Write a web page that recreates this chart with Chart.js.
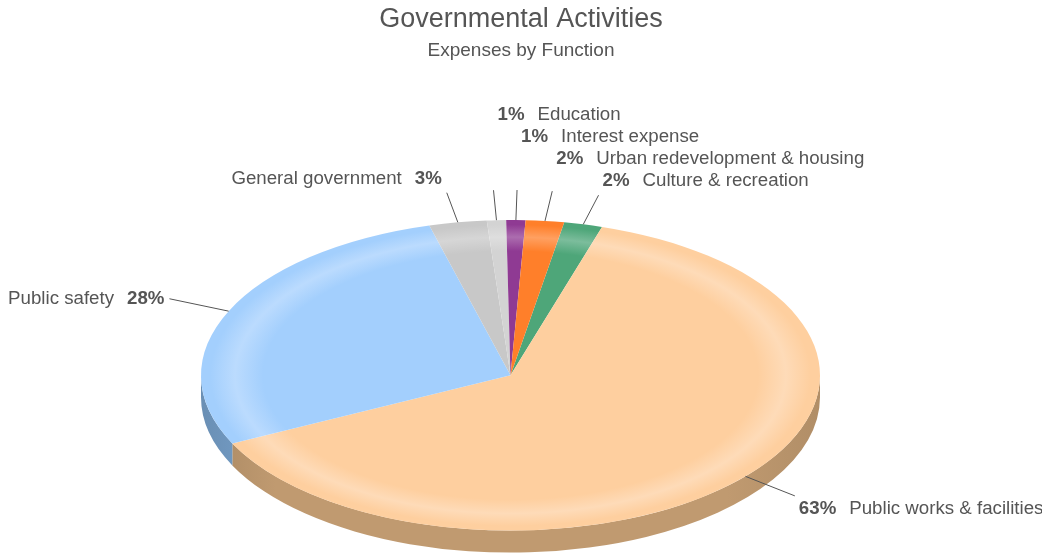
<!DOCTYPE html>
<html>
<head>
<meta charset="utf-8">
<title>Governmental Activities</title>
<script src="https://cdn.jsdelivr.net/npm/chart.js@4.4.1/dist/chart.umd.min.js"></script>
<style>
    html, body { margin: 0; padding: 0; background: #fff; }
    #wrap { width: 1042px; height: 557px; position: relative; }
</style>
</head>
<body>
<div id="wrap"><canvas id="expenses"></canvas></div>
<script>
// Expenses by function, share of total (%), clockwise from 12 o'clock
const categories = ['Culture & recreation', 'Public works & facilities', 'Public safety',
    'General government', 'Education', 'Interest expense', 'Urban redevelopment & housing'];
const shares = [2, 63, 28, 3, 1, 1, 2];
const topColors = ['#4ea679', '#fecf9f', '#a3cffd', '#c8c8c8', '#d3d3d3', '#8f3a93', '#ff7f2a'];
const sideColors = ['#3b7d5b', '#c09a70', '#78a2cd', '#969696', '#9e9e9e', '#6b2b6e', '#bf5f1f'];

const FONT = '"Liberation Sans", Arial, sans-serif';
const TEXT = '#555555';
const LABEL_SIZE = 18.7;

// flattened pie on screen
const pie3d = { cx: 510.5, cy: 375.3, rx: 309.5, ry: 155.3, depth: 22 };

function mix(hex, target, amt) {
    const n = parseInt(hex.slice(1), 16);
    const ch = [n >> 16, (n >> 8) & 255, n & 255].map(v => Math.round(v + (target - v) * amt));
    return `rgb(${ch[0]},${ch[1]},${ch[2]})`;
}

// top face: flat colour with a soft light band just inside the rim
function faceFill(context) {
    const chart = context.chart;
    const area = chart.chartArea;
    const base = topColors[context.dataIndex];
    if (!area) return base;
    const x = (area.left + area.right) / 2;
    const y = (area.top + area.bottom) / 2;
    const r = Math.min(area.width, area.height) / 2;
    const g = chart.ctx.createRadialGradient(x, y, 0, x, y, r);
    g.addColorStop(0, base);
    g.addColorStop(0.8, base);
    g.addColorStop(0.89, mix(base, 255, 0.26));
    g.addColorStop(0.97, base);
    g.addColorStop(1, base);
    return g;
}

const pie3dPlugin = {
    id: 'pie3d',
    beforeDatasetsDraw(chart) {
        const ctx = chart.ctx;
        const arcs = chart.getDatasetMeta(0).data;
        const { cx, cy, rx, ry, depth } = pie3d;
        ctx.save();

        // outer wall, only the front half shows
        arcs.forEach((arc, i) => {
            const a0 = Math.max(arc.startAngle, 0);
            const a1 = Math.min(arc.endAngle, Math.PI);
            if (a1 <= a0) return;
            const g = ctx.createLinearGradient(cx - rx, 0, cx + rx, 0);
            g.addColorStop(0, mix(sideColors[i], 0, 0.12));
            g.addColorStop(0.12, sideColors[i]);
            g.addColorStop(0.85, sideColors[i]);
            g.addColorStop(1, mix(sideColors[i], 0, 0.08));
            ctx.beginPath();
            ctx.ellipse(cx, cy, rx, ry, 0, a0, a1, false);
            ctx.ellipse(cx, cy + depth, rx, ry, 0, a1, a0, true);
            ctx.closePath();
            ctx.fillStyle = g;
            ctx.fill();
        });

        // squash the library's circle onto the top face
        const a = arcs[0];
        ctx.translate(cx, cy);
        ctx.scale(rx / a.outerRadius, ry / a.outerRadius);
        ctx.translate(-a.x, -a.y);
    },
    afterDatasetsDraw(chart) {
        chart.ctx.restore();
        drawLabels(chart);
    }
};

function drawLabels(chart) {
    const ctx = chart.ctx;
    const arcs = chart.getDatasetMeta(0).data;
    const total = shares.reduce((s, v) => s + v, 0);
    const { cx, cy, rx, ry } = pie3d;

    const items = arcs.map((arc, i) => {
        const mid = (arc.startAngle + arc.endAngle) / 2;
        const c = Math.cos(mid), s = Math.sin(mid);
        const start = { x: cx + rx * c, y: cy + ry * s };
        const end = { x: cx + (rx + 65) * c, y: cy + (ry + 30) * s };
        const yOff = s < -0.5 ? -14 : s > 0.5 ? 13 : 0;
        return {
            i, start, end,
            right: c > -0.1,
            y: end.y + yOff,
            pct: Math.round(shares[i] / total * 100) + '%'
        };
    });

    // keep stacked labels 22px apart, outermost one stays put
    [true, false].forEach(side => {
        const group = items.filter(it => it.right === side);
        const outer = (a, b) => side ? b.end.x - a.end.x : a.end.x - b.end.x;
        const upper = group.filter(it => it.end.y < cy).sort(outer);
        for (let k = 1; k < upper.length; k++) upper[k].y = Math.min(upper[k].y, upper[k - 1].y - 22);
        const lower = group.filter(it => it.end.y >= cy).sort(outer);
        for (let k = 1; k < lower.length; k++) lower[k].y = Math.max(lower[k].y, lower[k - 1].y + 22);
    });

    ctx.save();
    ctx.strokeStyle = '#555';
    ctx.lineWidth = 1;
    ctx.fillStyle = TEXT;
    ctx.textBaseline = 'middle';
    const bold = `bold ${LABEL_SIZE}px ${FONT}`;
    const normal = `${LABEL_SIZE}px ${FONT}`;
    const gap = 13;

    items.forEach(it => {
        ctx.beginPath();
        ctx.moveTo(it.start.x, it.start.y);
        ctx.lineTo(it.end.x, it.end.y);
        ctx.stroke();

        ctx.font = bold;
        const pw = ctx.measureText(it.pct).width;
        if (it.right) {
            const x = it.end.x + 4;
            ctx.textAlign = 'left';
            ctx.fillText(it.pct, x, it.y);
            ctx.font = normal;
            ctx.fillText(categories[it.i], x + pw + gap, it.y);
        } else {
            const x = it.end.x - 5;
            ctx.textAlign = 'right';
            ctx.fillText(it.pct, x, it.y);
            ctx.font = normal;
            ctx.fillText(categories[it.i], x - pw - gap, it.y);
        }
    });
    ctx.restore();
}

new Chart(document.getElementById('expenses'), {
    type: 'pie',
    data: {
        labels: categories,
        datasets: [{
            data: shares,
            backgroundColor: faceFill,
            borderWidth: 0,
            clip: false
        }]
    },
    options: {
        responsive: true,
        maintainAspectRatio: false,
        animation: false,
        events: [],
        rotation: 10,
        plugins: {
            legend: { display: false },
            tooltip: { enabled: false },
            title: {
                display: true,
                text: 'Governmental Activities',
                color: TEXT,
                font: { family: FONT, size: 27, weight: 'normal' },
                padding: { top: 3, bottom: 0 }
            },
            subtitle: {
                display: true,
                text: 'Expenses by Function',
                color: TEXT,
                font: { family: FONT, size: 19, weight: 'normal' },
                padding: { top: 4, bottom: 10 }
            }
        }
    },
    plugins: [pie3dPlugin]
});
</script>
</body>
</html>
